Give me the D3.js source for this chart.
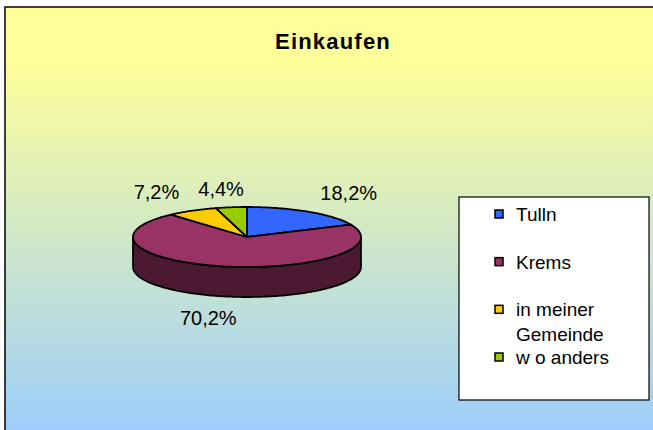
<!DOCTYPE html>
<html>
<head>
<meta charset="utf-8">
<script src="https://cdn.jsdelivr.net/npm/d3@7"></script>
<style>
  body { margin: 0; background: #fff; }
  text { font-family: "Liberation Sans", Arial, sans-serif; fill: #000; }
</style>
</head>
<body>
<div class="chart"></div>
<script>
var svgWidth = 653;
var svgHeight = 430;

// Data
var categories = ["Tulln", "Krems", "in meiner Gemeinde", "w o anders"];
var legendLines = [["Tulln"], ["Krems"], ["in meiner", "Gemeinde"], ["w o anders"]];
var shares = [18.2, 70.2, 7.2, 4.4];
var shareLabels = ["18,2%", "70,2%", "7,2%", "4,4%"];
var colors = ["#3366FF", "#993366", "#FFCC00", "#99CC00"];

var svg = d3.select(".chart")
  .append("svg")
  .attr("width", svgWidth)
  .attr("height", svgHeight);

// background gradient
var grad = svg.append("defs").append("linearGradient")
  .attr("id", "bg")
  .attr("x1", 0).attr("y1", 0).attr("x2", 0).attr("y2", 1);
grad.append("stop").attr("offset", "0").attr("stop-color", "#FFFF99");
grad.append("stop").attr("offset", "0.12").attr("stop-color", "#FFFF99");
grad.append("stop").attr("offset", "1").attr("stop-color", "#99CCFF");

svg.append("rect")
  .attr("x", 5).attr("y", 7)
  .attr("width", 700).attr("height", 440)
  .attr("fill", "url(#bg)")
  .attr("stroke", "#000")
  .attr("stroke-width", 1.5);

// title
svg.append("text")
  .attr("x", 333)
  .attr("y", 49)
  .attr("text-anchor", "middle")
  .style("font-size", "22px")
  .style("font-weight", "bold")
  .style("letter-spacing", "1.2px")
  .text("Einkaufen");

// 3D pie geometry
var cx = 247, cy = 237, rx = 114, ry = 30, depth = 30;

function pt(a, dy) {
  return [cx + rx * Math.sin(a), cy - ry * Math.cos(a) + (dy || 0)];
}
function arcPts(a0, a1, dy) {
  var n = Math.max(2, Math.ceil((a1 - a0) / 0.02));
  return d3.range(n + 1).map(function(i) { return pt(a0 + (a1 - a0) * i / n, dy); });
}

var pie = d3.pie().sort(null).value(function(d) { return d; });
var slices = pie(shares);
var line = d3.line();

var pieGroup = svg.append("g");

// side walls (front half only)
slices.forEach(function(s, i) {
  var a0 = Math.max(s.startAngle, Math.PI / 2);
  var a1 = Math.min(s.endAngle, 3 * Math.PI / 2);
  if (a1 <= a0) return;
  var top = arcPts(a0, a1, 0);
  var bottom = arcPts(a0, a1, depth).reverse();
  pieGroup.append("path")
    .attr("d", line(top.concat(bottom)) + "Z")
    .attr("fill", d3.color(colors[i]).darker(2))
    .attr("stroke", "#000")
    .attr("stroke-width", 1.8)
    .attr("stroke-linejoin", "round");
});

// top faces
slices.forEach(function(s, i) {
  var p = [[cx, cy]].concat(arcPts(s.startAngle, s.endAngle, 0));
  pieGroup.append("path")
    .attr("d", line(p) + "Z")
    .attr("fill", colors[i])
    .attr("stroke", "#000")
    .attr("stroke-width", 1.8)
    .attr("stroke-linejoin", "round");
});

// data labels (back labels kept on one row like the original)
var lrx = 188, lry = 52;
slices.forEach(function(s, i) {
  var a = (s.startAngle + s.endAngle) / 2;
  var x = cx + lrx * Math.sin(a);
  var y = Math.cos(a) < 0
    ? cy - lry * Math.cos(a) + depth
    : Math.max(cy - lry * Math.cos(a), 189);
  svg.append("text")
    .attr("x", x)
    .attr("y", y)
    .attr("dy", "0.36em")
    .attr("text-anchor", "middle")
    .style("font-size", "20px")
    .text(shareLabels[i]);
});

// legend
svg.append("rect")
  .attr("x", 459).attr("y", 197)
  .attr("width", 190).attr("height", 203)
  .attr("fill", "#fff")
  .attr("stroke", "#000")
  .attr("stroke-width", 1.2);

var legendY = d3.scalePoint().domain(categories).range([214, 357]);

var items = svg.selectAll(".legend-item")
  .data(categories)
  .enter()
  .append("g")
  .attr("class", "legend-item")
  .attr("transform", function(d) { return "translate(495," + legendY(d) + ")"; });

items.append("rect")
  .attr("x", 0).attr("y", -4)
  .attr("width", 8).attr("height", 8)
  .attr("fill", function(d, i) { return colors[i]; })
  .attr("stroke", "#000")
  .attr("stroke-width", 1.5);

items.each(function(d, i) {
  var g = d3.select(this);
  legendLines[i].forEach(function(t, j) {
    g.append("text")
      .attr("x", 21)
      .attr("y", j * 25)
      .attr("dy", "0.36em")
      .style("font-size", "19px")
      .text(t);
  });
});
</script>
</body>
</html>
